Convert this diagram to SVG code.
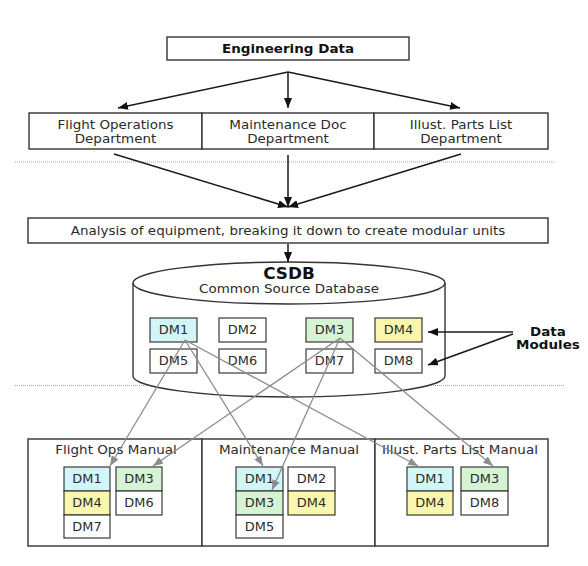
<svg xmlns="http://www.w3.org/2000/svg" width="588" height="566" viewBox="0 0 588 566">
<style>
  .box { fill: #ffffff; stroke: #333333; stroke-width: 1.4; }
  .dm { stroke: #3a3a3a; stroke-width: 1.2; }
  .w { fill: #ffffff; }
  .c { fill: #d2f5f8; }
  .g { fill: #d6f3d4; }
  .y { fill: #fbf6ad; }
  .t { font-family: "DejaVu Sans", Verdana, sans-serif; font-size: 12px; fill: #2b2b2b; text-anchor: middle; }
  .dmt { font-family: "DejaVu Sans", Verdana, sans-serif; font-size: 11.5px; fill: #2b2b2b; text-anchor: middle; }
  .b { font-weight: bold; fill: #111111; }
  .blk { stroke: #1a1a1a; stroke-width: 1.5; fill: none; }
  .gry { stroke: #8c8c8c; stroke-width: 1.3; fill: none; }
  .dot { stroke: #a8a8a8; stroke-width: 1; stroke-dasharray: 1 1; fill: none; }
</style>
<defs>
  <marker id="ab" viewBox="0 0 10 8" refX="10" refY="4" markerWidth="10" markerHeight="8" markerUnits="userSpaceOnUse" orient="auto">
    <path d="M0,0 L10,4 L0,8 z" fill="#111111"/>
  </marker>
  <marker id="ag" viewBox="0 0 10 8" refX="10" refY="4" markerWidth="10" markerHeight="8" markerUnits="userSpaceOnUse" orient="auto">
    <path d="M0,0 L10,4 L0,8 z" fill="#8c8c8c"/>
  </marker>
</defs>
<rect width="588" height="566" fill="#ffffff"/>

<!-- separators -->
<line class="dot" x1="15" y1="162" x2="555" y2="162"/>
<line class="dot" x1="15" y1="385.5" x2="565" y2="385.5"/>

<g id="engineering-data">
  <rect class="box" x="167" y="37" width="242" height="23"/>
  <text class="t b" transform="translate(288,53) scale(1.125,1)">Engineering Data</text>
</g>

<g id="dept-flight-ops">
  <rect class="box" x="29" y="113" width="173" height="36"/>
  <text class="t" transform="translate(115.5,129) scale(1.125,1)">Flight Operations</text>
  <text class="t" transform="translate(115.5,143) scale(1.125,1)">Department</text>
</g>
<g id="dept-maintenance-doc">
  <rect class="box" x="202" y="113" width="172" height="36"/>
  <text class="t" transform="translate(288,129) scale(1.125,1)">Maintenance Doc</text>
  <text class="t" transform="translate(288,143) scale(1.125,1)">Department</text>
</g>
<g id="dept-illust-parts">
  <rect class="box" x="374" y="113" width="174" height="36"/>
  <text class="t" transform="translate(461,129) scale(1.125,1)">Illust. Parts List</text>
  <text class="t" transform="translate(461,143) scale(1.125,1)">Department</text>
</g>

<g id="analysis">
  <rect class="box" x="28" y="218" width="520" height="25"/>
  <text class="t" transform="translate(288,235) scale(1.125,1)">Analysis of equipment, breaking it down to create modular units</text>
</g>

<g id="csdb">
  <path class="box" d="M133,283 L133,376 A156,21 0 0 0 445,376 L445,283"/>
  <ellipse class="box" cx="289" cy="283" rx="156" ry="21"/>
  <text class="t b" style="font-size:15px" transform="translate(289,279) scale(1.125,1)">CSDB</text>
  <text class="t" transform="translate(289,293) scale(1.125,1)">Common Source Database</text>
</g>

<g id="csdb-dm1"><rect class="dm c" x="150" y="318" width="47" height="24"/><text class="dmt" transform="translate(173.5,334) scale(1.125,1)">DM1</text></g>
<g id="csdb-dm2"><rect class="dm w" x="219" y="318" width="47" height="24"/><text class="dmt" transform="translate(242.5,334) scale(1.125,1)">DM2</text></g>
<g id="csdb-dm3"><rect class="dm g" x="306" y="318" width="47" height="24"/><text class="dmt" transform="translate(329.5,334) scale(1.125,1)">DM3</text></g>
<g id="csdb-dm4"><rect class="dm y" x="375" y="318" width="47" height="24"/><text class="dmt" transform="translate(398.5,334) scale(1.125,1)">DM4</text></g>
<g id="csdb-dm5"><rect class="dm w" x="150" y="349" width="47" height="24"/><text class="dmt" transform="translate(173.5,365) scale(1.125,1)">DM5</text></g>
<g id="csdb-dm6"><rect class="dm w" x="219" y="349" width="47" height="24"/><text class="dmt" transform="translate(242.5,365) scale(1.125,1)">DM6</text></g>
<g id="csdb-dm7"><rect class="dm w" x="306" y="349" width="47" height="24"/><text class="dmt" transform="translate(329.5,365) scale(1.125,1)">DM7</text></g>
<g id="csdb-dm8"><rect class="dm w" x="375" y="349" width="47" height="24"/><text class="dmt" transform="translate(398.5,365) scale(1.125,1)">DM8</text></g>

<g id="data-modules-label">
  <text class="t b" transform="translate(548,336) scale(1.125,1)">Data</text>
  <text class="t b" transform="translate(548,349) scale(1.125,1)">Modules</text>
</g>

<g id="manual-flight-ops">
  <rect class="box" x="28" y="439" width="174" height="107"/>
  <text class="t" transform="translate(116,454) scale(1.125,1)">Flight Ops Manual</text>
  <rect class="dm c" x="64" y="467" width="46" height="24"/><text class="dmt" transform="translate(87,483) scale(1.125,1)">DM1</text>
  <rect class="dm y" x="64" y="491" width="46" height="24"/><text class="dmt" transform="translate(87,507) scale(1.125,1)">DM4</text>
  <rect class="dm w" x="64" y="515" width="46" height="23"/><text class="dmt" transform="translate(87,531) scale(1.125,1)">DM7</text>
  <rect class="dm g" x="116" y="467" width="46" height="24"/><text class="dmt" transform="translate(139,483) scale(1.125,1)">DM3</text>
  <rect class="dm w" x="116" y="491" width="46" height="24"/><text class="dmt" transform="translate(139,507) scale(1.125,1)">DM6</text>
</g>
<g id="manual-maintenance">
  <rect class="box" x="202" y="439" width="173" height="107"/>
  <text class="t" transform="translate(289,454) scale(1.125,1)">Maintenance Manual</text>
  <rect class="dm c" x="236" y="467" width="47" height="24"/><text class="dmt" transform="translate(259.5,483) scale(1.125,1)">DM1</text>
  <rect class="dm g" x="236" y="491" width="47" height="24"/><text class="dmt" transform="translate(259.5,507) scale(1.125,1)">DM3</text>
  <rect class="dm w" x="236" y="515" width="47" height="23"/><text class="dmt" transform="translate(259.5,531) scale(1.125,1)">DM5</text>
  <rect class="dm w" x="288" y="467" width="47" height="24"/><text class="dmt" transform="translate(311.5,483) scale(1.125,1)">DM2</text>
  <rect class="dm y" x="288" y="491" width="47" height="24"/><text class="dmt" transform="translate(311.5,507) scale(1.125,1)">DM4</text>
</g>
<g id="manual-illust-parts">
  <rect class="box" x="375" y="439" width="173" height="107"/>
  <text class="t" transform="translate(460,454) scale(1.125,1)">Illust. Parts List Manual</text>
  <rect class="dm c" x="407" y="467" width="46" height="24"/><text class="dmt" transform="translate(430,483) scale(1.125,1)">DM1</text>
  <rect class="dm y" x="407" y="491" width="46" height="24"/><text class="dmt" transform="translate(430,507) scale(1.125,1)">DM4</text>
  <rect class="dm g" x="461" y="467" width="47" height="24"/><text class="dmt" transform="translate(484.5,483) scale(1.125,1)">DM3</text>
  <rect class="dm w" x="461" y="491" width="47" height="24"/><text class="dmt" transform="translate(484.5,507) scale(1.125,1)">DM8</text>
</g>

<g id="connectors">
  <line class="blk" x1="288" y1="72" x2="118" y2="108" marker-end="url(#ab)"/>
  <line class="blk" x1="288" y1="72" x2="288" y2="108" marker-end="url(#ab)"/>
  <line class="blk" x1="288" y1="72" x2="460" y2="108" marker-end="url(#ab)"/>
  <line class="blk" x1="114" y1="154" x2="288" y2="207" marker-end="url(#ab)"/>
  <line class="blk" x1="288" y1="155" x2="288" y2="207" marker-end="url(#ab)"/>
  <line class="blk" x1="461" y1="154" x2="288" y2="207" marker-end="url(#ab)"/>
  <line class="blk" x1="288" y1="244" x2="288" y2="262" marker-end="url(#ab)"/>
  <line class="blk" x1="513" y1="332" x2="428" y2="332" marker-end="url(#ab)"/>
  <line class="blk" x1="513" y1="334" x2="428" y2="365" marker-end="url(#ab)"/>
  <line class="gry" x1="185" y1="340" x2="110" y2="466" marker-end="url(#ag)"/>
  <line class="gry" x1="185" y1="340" x2="263" y2="466" marker-end="url(#ag)"/>
  <line class="gry" x1="185" y1="340" x2="418" y2="466" marker-end="url(#ag)"/>
  <line class="gry" x1="340" y1="338" x2="153" y2="466" marker-end="url(#ag)"/>
  <line class="gry" x1="340" y1="338" x2="272" y2="490" marker-end="url(#ag)"/>
  <line class="gry" x1="340" y1="338" x2="493" y2="466" marker-end="url(#ag)"/>
</g>
</svg>
